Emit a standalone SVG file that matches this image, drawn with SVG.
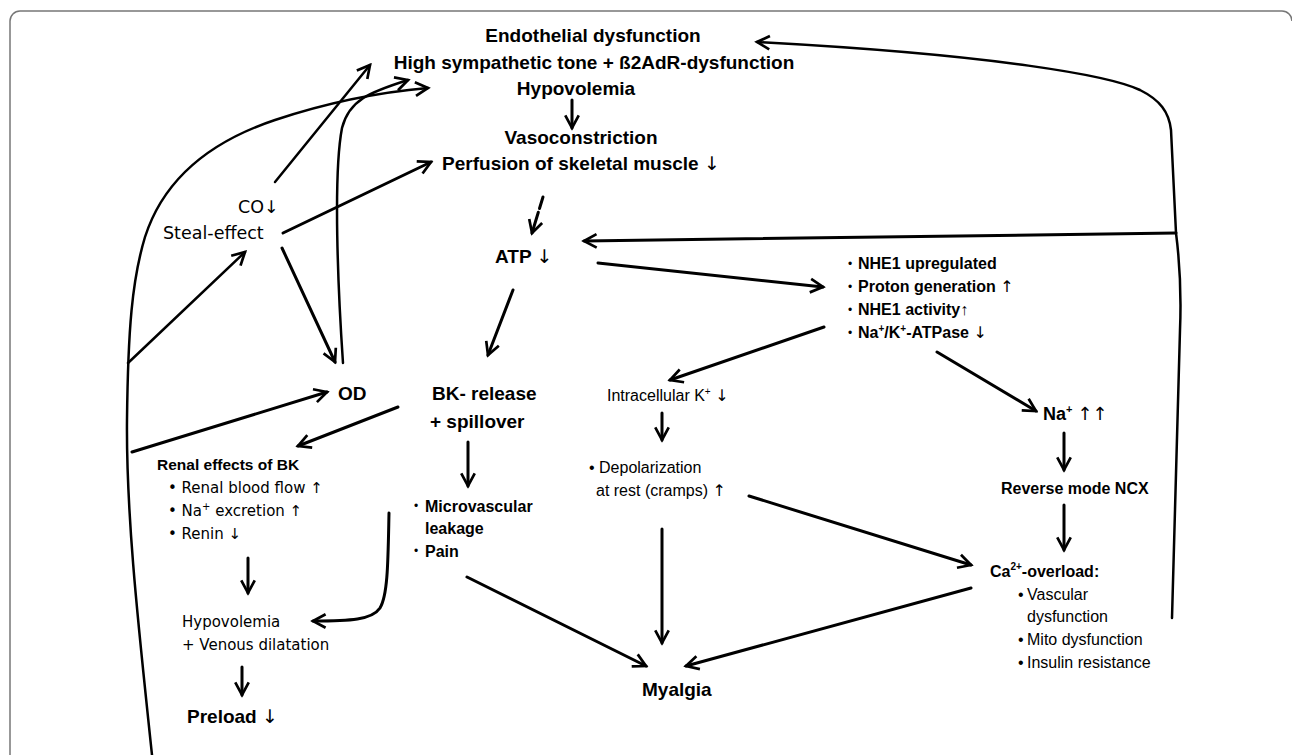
<svg xmlns="http://www.w3.org/2000/svg" width="1292" height="755" viewBox="0 0 1292 755">
<defs>
<marker id="ah" viewBox="0 0 20 20" refX="17" refY="10" markerWidth="18" markerHeight="18" markerUnits="userSpaceOnUse" orient="auto">
<path d="M3,2.5 L17,10 L3,17.5" fill="none" stroke="#000" stroke-width="3" stroke-linejoin="miter"/>
</marker>
<style>
.b{font-family:"Liberation Sans",Arial,sans-serif;font-weight:bold;fill:#000}
.r{font-family:"DejaVu Sans","Liberation Sans",sans-serif;fill:#000}
.c{font-family:"Liberation Sans",Arial,sans-serif;fill:#000}
.a{font-family:"DejaVu Sans",sans-serif;font-weight:normal}
.t{font-size:19px;text-anchor:middle}
.ln{fill:none;stroke:#000;stroke-width:3;stroke-linecap:round}
.cv{fill:none;stroke:#000;stroke-width:2.5;stroke-linecap:round}
.ar{marker-end:url(#ah)}
</style>
</defs>
<rect width="1292" height="755" fill="#fff"/>
<path d="M10,755 L10,21 A10,10 0 0 1 20,11 L1282,11 A10,10 0 0 1 1292,21" fill="none" stroke="#777" stroke-width="1.5"/>

<g id="connectors">
<path class="cv ar" d="M275,182 L370,65"/>
<path class="cv ar" d="M343,363 C338,290 333,175 342,128 C349,100 370,92 408,80"/>
<path class="cv ar" d="M152,755 C140,640 126,520 127,420 C128,330 132,280 145,237 C165,175 215,140 275,120 C320,105 370,93 428,88"/>
<path class="ln ar" d="M283,233 L431,162"/>
<path class="cv ar" d="M128,363 L245,252"/>
<path class="ln ar" d="M282,248 L335,362"/>
<path class="ln ar" d="M132,452 L327,392"/>
<path class="ln ar" d="M398,407 L298,446"/>
<path class="ln ar" d="M248,558 L248,593"/>
<path class="ln ar" d="M389,513 C388,560 388,595 380,608 C372,620 350,621 313,621"/>
<path class="ln ar" d="M242,667 L242,695"/>
<path class="ln ar" d="M468,442 L468,486"/>
<path class="ln ar" d="M467,577 L646,666"/>
<path class="ln ar" d="M513,290 L488,355"/>
<path class="ln ar" d="M543,197 L532,233" stroke-dasharray="12 4 40"/>
<path class="ln ar" d="M572,100 L572,128"/>
<path class="cv ar" d="M1172,618 L1180,330 Q1182,280 1176,233 L1171,130 C1169,112 1160,100 1140,90 C1110,76 1000,55 757,42"/>
<path class="ln ar" d="M1176,233 L584,241"/>
<path class="ln ar" d="M598,263 L823,287"/>
<path class="ln ar" d="M824,327 L670,380"/>
<path class="ln ar" d="M937,352 L1036,411"/>
<path class="ln ar" d="M662,413 L662,440"/>
<path class="ln ar" d="M1064,433 L1064,470"/>
<path class="ln ar" d="M1064,505 L1064,550"/>
<path class="ln ar" d="M749,496 L971,565"/>
<path class="ln ar" d="M662,529 L662,643"/>
<path class="ln ar" d="M971,588 L686,666"/>
</g>

<g id="top">
<text class="b t" x="593" y="42">Endothelial dysfunction</text>
<text class="b t" x="594" y="69">High sympathetic tone + ß2AdR-dysfunction</text>
<text class="b t" x="576" y="95">Hypovolemia</text>
</g>
<g id="vaso">
<text class="b t" x="581" y="144">Vasoconstriction</text>
<text class="b t" x="581" y="170">Perfusion of skeletal muscle <tspan class="a">↓</tspan></text>
</g>
<g id="co"><text class="r" x="238" y="213" font-size="17.5">CO↓</text></g>
<g id="steal"><text class="r" x="163" y="239" font-size="17.5">Steal-effect</text></g>
<g id="od"><text class="b" x="338" y="400" font-size="19">OD</text></g>
<g id="atp"><text class="b" x="495" y="263" font-size="19">ATP <tspan class="a">↓</tspan></text></g>
<g id="bk">
<text class="b" x="432" y="400" font-size="19">BK- release</text>
<text class="b" x="430" y="428" font-size="19">+ spillover</text>
</g>
<g id="renal">
<text class="b" x="157" y="470" font-size="15.5">Renal effects of BK</text>
<text class="r" x="168" y="493" font-size="15">• Renal blood flow ↑</text>
<text class="r" x="168" y="516" font-size="15">• Na<tspan font-size="10" dy="-6">+</tspan><tspan dy="6"> excretion ↑</tspan></text>
<text class="r" x="168" y="539" font-size="15">• Renin ↓</text>
</g>
<g id="hypo2">
<text class="r" x="182" y="627" font-size="15">Hypovolemia</text>
<text class="r" x="182" y="650" font-size="15">+ Venous dilatation</text>
</g>
<g id="preload"><text class="b" x="187" y="723" font-size="19">Preload <tspan class="a">↓</tspan></text></g>
<g id="micro">
<text class="c" x="414" y="510" font-size="12">•</text>
<text class="b" x="425" y="512" font-size="16">Microvascular</text>
<text class="b" x="425" y="534" font-size="16">leakage</text>
<text class="c" x="414" y="555" font-size="12">•</text>
<text class="b" x="425" y="557" font-size="16">Pain</text>
</g>
<g id="myalgia"><text class="b" x="642" y="696" font-size="19">Myalgia</text></g>
<g id="nhe">
<text class="c" x="848" y="268" font-size="12">•</text>
<text class="b" x="858" y="269" font-size="16">NHE1 upregulated</text>
<text class="c" x="848" y="291" font-size="12">•</text>
<text class="b" x="858" y="292" font-size="16">Proton generation <tspan class="a">↑</tspan></text>
<text class="c" x="848" y="314" font-size="12">•</text>
<text class="b" x="858" y="315" font-size="16">NHE1 activity↑</text>
<text class="c" x="848" y="337" font-size="12">•</text>
<text class="b" x="858" y="338" font-size="16">Na<tspan font-size="10" dy="-6">+</tspan><tspan dy="6">/K</tspan><tspan font-size="10" dy="-6">+</tspan><tspan dy="6">-ATPase </tspan><tspan class="a">↓</tspan></text>
</g>
<g id="kplus"><text class="c" x="607" y="401" font-size="16">Intracellular K<tspan font-size="10" dy="-6">+</tspan><tspan dy="6"> </tspan><tspan class="a">↓</tspan></text></g>
<g id="depol">
<text class="c" x="589" y="473" font-size="16">• Depolarization</text>
<text class="c" x="596" y="496" font-size="16">at rest (cramps) <tspan class="a">↑</tspan></text>
</g>
<g id="na"><text class="b" x="1043" y="420" font-size="18">Na<tspan font-size="11" dy="-7">+</tspan><tspan dy="7"> </tspan><tspan class="a">↑↑</tspan></text></g>
<g id="ncx"><text class="b" x="1001" y="494" font-size="16">Reverse mode NCX</text></g>
<g id="ca">
<text class="b" x="990" y="577" font-size="16">Ca<tspan font-size="10" dy="-7">2+</tspan><tspan dy="7">-overload:</tspan></text>
<text class="c" x="1018" y="600" font-size="16">•</text>
<text class="c" x="1027" y="600" font-size="16">Vascular</text>
<text class="c" x="1027" y="622" font-size="16">dysfunction</text>
<text class="c" x="1018" y="645" font-size="16">•</text>
<text class="c" x="1027" y="645" font-size="16">Mito dysfunction</text>
<text class="c" x="1018" y="668" font-size="16">•</text>
<text class="c" x="1027" y="668" font-size="16">Insulin resistance</text>
</g>
</svg>
